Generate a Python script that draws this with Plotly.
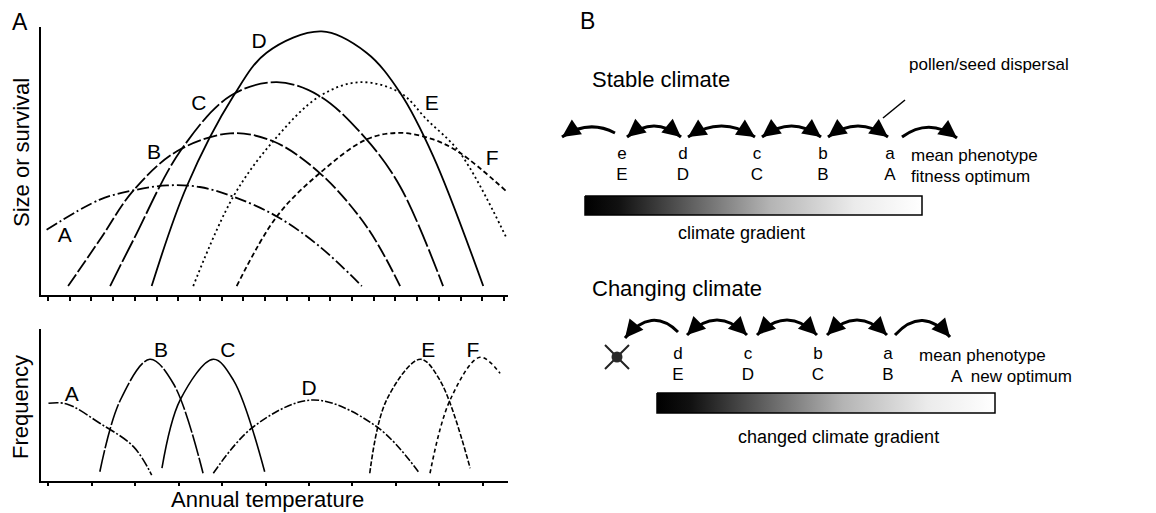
import plotly.graph_objects as go

W, H = 1156, 513
OFF = 8  # the page body adds an 8px margin around the figure

# ---- panel A, top: size or survival vs annual temperature (arbitrary units 0-100)
size_A_x = [1.2, 12.6, 19.7, 27.0, 34.0, 41.1, 50.5, 59.7, 68.7]
size_A_y = [24.8, 36.3, 39.8, 41.7, 41.1, 37.5, 29.9, 18.4, 3.4]
size_B_x = [5.8, 12.6, 19.8, 29.1, 40.5, 49.7, 59.7, 69.7, 76.9]
size_B_y = [3.4, 21.0, 39.8, 54.7, 61.5, 58.5, 46.4, 26.1, 3.4]
size_C_x = [14.8, 19.8, 29.8, 40.5, 50.5, 59.7, 69.7, 76.9, 86.1]
size_C_y = [3.4, 21.0, 54.7, 75.7, 81.0, 75.7, 59.2, 41.3, 3.4]
size_D_x = [23.7, 31.2, 41.2, 48.3, 60.1, 69.7, 76.9, 84.0, 94.7]
size_D_y = [3.4, 41.3, 75.7, 92.2, 100.3, 92.2, 77.0, 52.8, 3.4]
size_E_x = [32.6, 41.2, 49.7, 59.7, 68.3, 76.9, 82.6, 89.7, 99.7]
size_E_y = [3.4, 37.5, 58.5, 75.7, 81.0, 77.0, 66.8, 54.1, 21.6]
size_F_x = [41.9, 50.5, 59.7, 69.7, 76.9, 84.0, 89.7, 99.7]
size_F_y = [3.4, 29.9, 46.4, 59.2, 61.7, 59.2, 54.1, 39.4]
size_label_x = [5.1, 24.2, 33.8, 46.7, 83.7, 96.6]
size_label_y = [22.1, 53.8, 72.5, 96.2, 72.5, 51.5]

# ---- panel A, bottom: frequency vs annual temperature
freq_A_x = [1.6, 5.5, 12.6, 19.8, 23.7]
freq_A_y = [51.1, 50.7, 38.0, 22.6, 3.9]
freq_B_x = [12.6, 17.0, 23.3, 28.3, 34.7]
freq_B_y = [6.1, 53.3, 80.1, 64.3, 5.1]
freq_C_x = [25.9, 29.8, 36.9, 41.2, 47.9]
freq_C_y = [8.4, 53.3, 80.1, 66.4, 6.1]
freq_D_x = [36.9, 45.5, 58.3, 71.9, 80.8]
freq_D_y = [5.1, 35.7, 53.3, 35.7, 6.1]
freq_E_x = [70.4, 74.0, 81.2, 85.4, 91.9]
freq_E_y = [5.1, 53.3, 80.1, 66.4, 8.4]
freq_F_x = [83.3, 87.6, 94.0, 98.3]
freq_F_y = [5.1, 53.3, 81.4, 70.8]
freq_label_x = [6.6, 25.7, 40.0, 57.4, 82.9, 92.5]
freq_label_y = [55.9, 84.9, 84.9, 59.9, 84.9, 84.9]

populations = ["A", "B", "C", "D", "E", "F"]

# ---- panel B: positions along the climate gradient (page pixels)
stable_x = [622, 683, 757, 823, 890]
stable_pheno = ["e", "d", "c", "b", "a"]
stable_opt = ["E", "D", "C", "B", "A"]
changing_x = [678, 748, 818, 888]
changing_pheno = ["d", "c", "b", "a"]
changing_opt = ["E", "D", "C", "B"]

FONT = "Liberation Sans, Arial, Helvetica, sans-serif"

top_dash = ["12px,3px,2px,3px", "14px,3px", "24px,3px", "solid", "2px,3px", "5px,3px"]
bot_dash = ["10px,2px,2px,2px", "22px,2px", "solid", "8px,2px,2px,2px", "5px,2px", "4px,3px"]

size_curves = [(size_A_x, size_A_y), (size_B_x, size_B_y), (size_C_x, size_C_y),
               (size_D_x, size_D_y), (size_E_x, size_E_y), (size_F_x, size_F_y)]
freq_curves = [(freq_A_x, freq_A_y), (freq_B_x, freq_B_y), (freq_C_x, freq_C_y),
               (freq_D_x, freq_D_y), (freq_E_x, freq_E_y), (freq_F_x, freq_F_y)]


def px(x):
    return (x - OFF) / W


def py(y):
    return 1 - (y - OFF) / H


fig = go.Figure()

for (xs, ys), dash in zip(size_curves, top_dash):
    fig.add_trace(go.Scatter(x=xs, y=ys, mode="lines", line_shape="spline",
                             line={"color": "black", "width": 1.8, "dash": dash},
                             xaxis="x", yaxis="y", hoverinfo="skip"))
fig.add_trace(go.Scatter(x=size_label_x, y=size_label_y, mode="text", text=populations,
                         textfont={"family": FONT, "size": 21, "color": "black"},
                         xaxis="x", yaxis="y", hoverinfo="skip"))

for (xs, ys), dash in zip(freq_curves, bot_dash):
    fig.add_trace(go.Scatter(x=xs, y=ys, mode="lines", line_shape="spline",
                             line={"color": "black", "width": 1.6, "dash": dash},
                             xaxis="x2", yaxis="y2", hoverinfo="skip"))
fig.add_trace(go.Scatter(x=freq_label_x, y=freq_label_y, mode="text", text=populations,
                         textfont={"family": FONT, "size": 21, "color": "black"},
                         xaxis="x2", yaxis="y2", hoverinfo="skip"))

# ---- panel B text rows
row_font = {"family": FONT, "size": 17, "color": "black"}
fig.add_trace(go.Scatter(x=stable_x, y=[155] * len(stable_x), mode="text", text=stable_pheno,
                         textfont=row_font, xaxis="x3", yaxis="y3", hoverinfo="skip"))
fig.add_trace(go.Scatter(x=stable_x, y=[176] * len(stable_x), mode="text", text=stable_opt,
                         textfont=row_font, xaxis="x3", yaxis="y3", hoverinfo="skip"))
fig.add_trace(go.Scatter(x=changing_x, y=[355] * len(changing_x), mode="text", text=changing_pheno,
                         textfont=row_font, xaxis="x3", yaxis="y3", hoverinfo="skip"))
fig.add_trace(go.Scatter(x=changing_x, y=[376] * len(changing_x), mode="text", text=changing_opt,
                         textfont=row_font, xaxis="x3", yaxis="y3", hoverinfo="skip"))

# gradient bars
grad_scale = [[0, "#000000"], [0.1, "#111111"], [0.3, "#5a5a5a"], [0.55, "#b4b4b4"],
              [0.8, "#ebebeb"], [1, "#ffffff"]]
for x0, x1, y0, y1 in [(585, 922, 196, 215), (657, 995, 393, 413)]:
    fig.add_trace(go.Scatter(x=[x0, x1, x1, x0, x0], y=[y0, y0, y1, y1, y0], mode="lines",
                             fill="toself", line={"color": "black", "width": 1.5},
                             fillgradient={"type": "horizontal", "colorscale": grad_scale},
                             xaxis="x3", yaxis="y3", hoverinfo="skip"))

# extinct population marker
fig.add_trace(go.Scatter(x=[617], y=[357], mode="markers",
                         marker={"symbol": "x-thin", "size": 24, "line": {"width": 2, "color": "#222"}},
                         xaxis="x3", yaxis="y3", hoverinfo="skip"))
fig.add_trace(go.Scatter(x=[617], y=[357], mode="markers",
                         marker={"symbol": "circle", "size": 11, "color": "#2a2a2a"},
                         xaxis="x3", yaxis="y3", hoverinfo="skip"))

shapes = []
annotations = []


def arc(x0, y0, x1, y1, lift, head_start, head_end):
    cx = (x0 + x1) / 2
    cy = min(y0, y1) - lift
    shapes.append({"type": "path", "xref": "x3", "yref": "y3",
                   "path": f"M {x0},{y0} Q {cx},{cy} {x1},{y1}",
                   "line": {"color": "black", "width": 3}})
    for flag, ex, ey in [(head_start, x0, y0), (head_end, x1, y1)]:
        if not flag:
            continue
        dx, dy = ex - cx, ey - cy
        n = (dx * dx + dy * dy) ** 0.5
        annotations.append({"x": ex, "y": ey, "xref": "x3", "yref": "y3",
                            "ax": ex - 7 * dx / n, "ay": ey - 7 * dy / n,
                            "axref": "x3", "ayref": "y3", "text": "", "showarrow": True,
                            "arrowhead": 2, "arrowsize": 1.2, "arrowwidth": 3,
                            "arrowcolor": "black", "standoff": 0})


# stable climate dispersal arrows
arc(stable_x[0] - 7, 133, stable_x[0] - 60, 137, 14, False, True)
for left, right in zip(stable_x[:-1], stable_x[1:]):
    arc(left + 5, 137, right - 2, 137, 22, True, True)
arc(stable_x[-1] + 12, 137, stable_x[-1] + 67, 138, 20, False, True)

# changing climate dispersal arrows
arc(changing_x[0], 332, changing_x[0] - 53, 338, 26, False, True)
for left, right in zip(changing_x[:-1], changing_x[1:]):
    arc(left + 9, 335, right - 1, 335, 30, True, True)
arc(changing_x[-1] + 7, 335, changing_x[-1] + 62, 337, 30, False, True)

shapes.append({"type": "line", "xref": "x3", "yref": "y3", "x0": 883, "y0": 118, "x1": 905, "y1": 100,
               "line": {"color": "black", "width": 1.5}})


def note(text, x, y, size, xanchor="center", angle=0, ref="x3"):
    if ref == "paper":
        annotations.append({"text": text, "x": px(x), "y": py(y), "xref": "paper", "yref": "paper",
                            "xanchor": xanchor, "yanchor": "middle", "showarrow": False, "textangle": angle,
                            "font": {"family": FONT, "size": size, "color": "black"}})
    else:
        annotations.append({"text": text, "x": x, "y": y, "xref": "x3", "yref": "y3",
                            "xanchor": xanchor, "yanchor": "middle", "showarrow": False,
                            "font": {"family": FONT, "size": size, "color": "black"}})


note("A", 20, 22, 23, ref="paper")
note("Size or survival", 21, 153, 22, angle=-90, ref="paper")
note("Frequency", 20, 407, 22, angle=-90, ref="paper")
note("Annual temperature", 267, 499, 22, ref="paper")
note("B", 587, 21, 23)
note("Stable climate", 590, 79, 22, xanchor="left")
note("pollen/seed dispersal", 907, 64, 17, xanchor="left")
note("mean phenotype", 909, 155, 17, xanchor="left")
note("fitness optimum", 909, 176, 17, xanchor="left")
note("climate gradient", 741, 233, 18)
note("Changing climate", 590, 288, 22, xanchor="left")
note("mean phenotype", 917, 355, 17, xanchor="left")
note("A  new optimum", 949, 376, 17, xanchor="left")
note("changed climate gradient", 838, 437, 18)

x_dom = [px(41), px(508)]
axis_common = {"showgrid": False, "zeroline": False, "showline": True, "linecolor": "black",
               "linewidth": 2, "showticklabels": False}

fig.update_layout(
    width=W, height=H, margin={"l": 0, "r": 0, "t": 0, "b": 0},
    paper_bgcolor="white", plot_bgcolor="rgba(0,0,0,0)", showlegend=False,
    xaxis={**axis_common, "domain": x_dom, "range": [0, 100], "anchor": "y",
           "ticks": "outside", "ticklen": 4, "tickwidth": 1.5, "tickcolor": "black",
           "tick0": 1.5, "dtick": 4.65},
    yaxis={**axis_common, "domain": [py(295), py(27)], "range": [0, 102], "anchor": "x", "ticks": ""},
    xaxis2={**axis_common, "domain": x_dom, "range": [0, 100], "anchor": "y2",
            "ticks": "outside", "ticklen": 3, "tickwidth": 1.5, "tickcolor": "black",
            "tick0": 1.6, "dtick": 9.3},
    yaxis2={**axis_common, "domain": [py(481), py(329)], "range": [0, 100], "anchor": "x2", "ticks": ""},
    xaxis3={"domain": [px(550), 1], "range": [550, W + OFF], "visible": False, "anchor": "y3"},
    yaxis3={"domain": [0, 1], "range": [H + OFF, OFF], "visible": False, "anchor": "x3"},
    shapes=shapes, annotations=annotations,
)

fig.write_html("out.html")
